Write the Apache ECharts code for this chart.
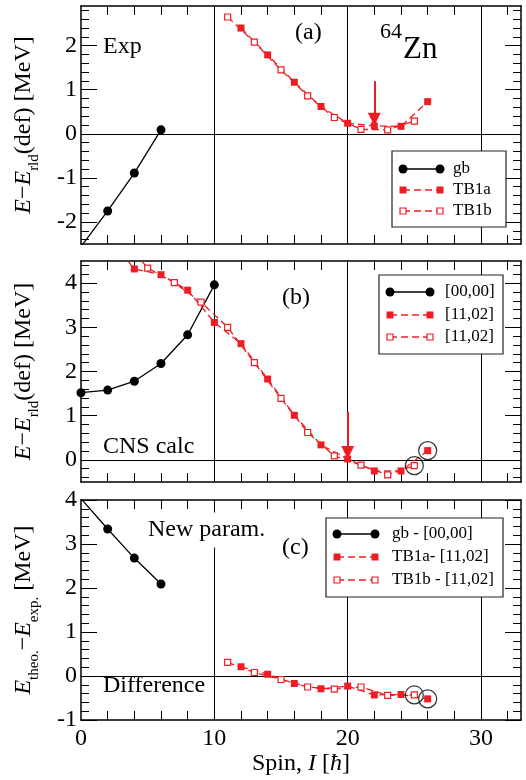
<!DOCTYPE html>
<html>
<head>
<meta charset="utf-8">
<script src="https://cdn.jsdelivr.net/npm/echarts@6/dist/echarts.min.js"></script>
<style>
html, body { margin: 0; padding: 0; background: #fff; }
#chart { width: 526px; height: 780px; }
</style>
</head>
<body>
<div id="chart"></div>
<script>
// 64Zn bands: spin I (hbar) vs. energy relative to rigid-rotor reference (MeV)

// (a) experiment
const spinGbA = [0, 2, 4, 6];
const gbA = [-2.56, -1.75, -0.89, 0.09];
const spinTB1aA = [12, 14, 16, 18, 20, 22, 24, 26];
const tb1aA = [2.40, 1.79, 1.17, 0.62, 0.24, 0.18, 0.17, 0.73];
const spinTB1bA = [11, 13, 15, 17, 19, 21, 23, 25];
const tb1bA = [2.65, 2.08, 1.45, 0.86, 0.37, 0.10, 0.09, 0.29];

// (b) CNS calculation
const spinGbB = [0, 2, 4, 6, 8, 10];
const gbB = [1.52, 1.58, 1.78, 2.18, 2.83, 3.96];
const spinTB1aB = [2, 4, 6, 8, 10, 12, 14, 16, 18, 20, 22, 24, 26];
const tb1aB = [5.05, 4.32, 4.19, 3.84, 3.11, 2.63, 1.83, 1.01, 0.34, 0.02, -0.25, -0.25, 0.21];
const spinTB1bB = [3, 5, 7, 9, 11, 13, 15, 17, 19, 21, 23, 25];
const tb1bB = [5.05, 4.34, 4.01, 3.57, 3.00, 2.20, 1.39, 0.62, 0.09, -0.12, -0.34, -0.13];

// (c) theory minus experiment
const spinGbC = [0, 2, 4, 6];
const gbC = [4.03, 3.34, 2.68, 2.09];
const spinTB1aC = [12, 14, 16, 18, 20, 22, 24, 26];
const tb1aC = [0.21, 0.04, -0.17, -0.29, -0.23, -0.43, -0.42, -0.52];
const spinTB1bC = [11, 13, 15, 17, 19, 21, 23, 25];
const tb1bC = [0.31, 0.08, -0.08, -0.25, -0.30, -0.25, -0.44, -0.43];

// arrows: [spin, tail energy, tip energy]
const arrowA = [22, 1.19, 0.33];
const arrowB = [20, 1.09, 0.17];

// circled terminating states (spins) of TB1b and TB1a
const circledTB1b = 25;
const circledTB1a = 26;

// axes
const spinRange = [0, 33];
const spinTicks = [0, 10, 20, 30];
const spinMinorTicks = [2, 4, 6, 8, 10, 12, 14, 16, 18, 20, 22, 24, 26, 28, 30, 32];
const refLinesX = [10, 20, 30];
const refLineY = 0;
const yRangeA = [-2.5, 2.9];
const yTicksA = [-2, -1, 0, 1, 2];
const yRangeB = [-0.5, 4.5];
const yTicksB = [0, 1, 2, 3, 4];
const yRangeC = [-1, 4];
const yTicksC = [-1, 0, 1, 2, 3, 4];

const SERIF = 'Liberation Serif, Times New Roman, Times, serif';
const RED = '#ee1d23';
const BLACK = '#000';

function minorValues(range, step) {
  const out = [];
  const k0 = Math.ceil(range[0] / step - 1e-9);
  const k1 = Math.floor(range[1] / step + 1e-9);
  for (let k = k0; k <= k1; k++) {
    const v = Math.round(k * step * 1000) / 1000;
    if (Math.abs(v - Math.round(v)) > 1e-6) out.push(v);
  }
  return out;
}

function pts(xs, ys) { return xs.map((x, i) => [x, ys[i]]); }
function valueAt(xs, ys, x) { return ys[xs.indexOf(x)]; }

const grids = [
  { left: 81, top: 6, width: 440, height: 238 },
  { left: 81, top: 261, width: 440, height: 221 },
  { left: 81, top: 500, width: 440, height: 220 }
];

const richName = {
  t: { fontFamily: SERIF, fontSize: 24, color: BLACK, lineHeight: 30, verticalAlign: 'top' },
  i: { fontFamily: SERIF, fontSize: 24, color: BLACK, lineHeight: 30, verticalAlign: 'top', fontStyle: 'italic' },
  s: { fontFamily: SERIF, fontSize: 15, color: BLACK, lineHeight: 15, verticalAlign: 'bottom' }
};

const axisLineStyle = { color: BLACK, width: 1.5 };
const tickLineStyle = { color: BLACK, width: 1 };

function xAxes(p, withLabels) {
  const common = {
    type: 'value', gridIndex: p, min: spinRange[0], max: spinRange[1],
    axisLine: { show: true, onZero: false, lineStyle: axisLineStyle },
    axisTick: { show: true, inside: true, length: 9, customValues: spinMinorTicks, lineStyle: tickLineStyle },
    minorTick: { show: false },
    splitLine: { show: false }
  };
  const bottom = Object.assign({}, common, {
    position: 'bottom',
    axisLabel: withLabels
      ? { show: true, customValues: spinTicks, margin: 7, color: BLACK, fontFamily: SERIF, fontSize: 24 }
      : { show: false }
  });
  if (withLabels) {
    Object.assign(bottom, {
      name: '{t|Spin, }{i|I}{t| [}{i|ħ}{t|]}',
      nameLocation: 'middle', nameGap: 27,
      nameTextStyle: { rich: richName }
    });
  }
  const top = Object.assign({}, common, { position: 'top', axisLabel: { show: false } });
  return [bottom, top];
}

function yAxes(p, range, ticks, name) {
  const minor = minorValues(range, 0.2);
  const common = { type: 'value', gridIndex: p, min: range[0], max: range[1], splitLine: { show: false }, minorTick: { show: false } };
  return [
    Object.assign({}, common, {
      position: 'left',
      axisLine: { show: true, onZero: false, lineStyle: axisLineStyle },
      axisTick: { show: true, inside: true, length: 16, customValues: ticks, lineStyle: tickLineStyle },
      axisLabel: { show: true, customValues: ticks, margin: 4, color: BLACK, fontFamily: SERIF, fontSize: 24 },
      name: name, nameLocation: 'middle', nameRotate: 90, nameGap: 39,
      nameTextStyle: { rich: richName }
    }),
    Object.assign({}, common, {
      position: 'right',
      axisLine: { show: true, onZero: false, lineStyle: axisLineStyle },
      axisTick: { show: true, inside: true, length: 16, customValues: ticks, lineStyle: tickLineStyle },
      axisLabel: { show: false }
    }),
    Object.assign({}, common, {
      position: 'left',
      axisLine: { show: false, onZero: false },
      axisTick: { show: true, inside: true, length: 8, customValues: minor, lineStyle: tickLineStyle },
      axisLabel: { show: false }
    }),
    Object.assign({}, common, {
      position: 'right',
      axisLine: { show: false, onZero: false },
      axisTick: { show: true, inside: true, length: 8, customValues: minor, lineStyle: tickLineStyle },
      axisLabel: { show: false }
    })
  ];
}

const nameDiff = '{i|E}{t|−}{i|E}{s|rld}{t|(def) [MeV]}';
const nameTheo = '{i|E}{s|theo.}{t|−}{i|E}{s|exp.}{t| [MeV]}';

function refLines(p) {
  return {
    type: 'line', xAxisIndex: 2 * p, yAxisIndex: 4 * p, data: [], silent: true, z: 1,
    markLine: {
      silent: true, z: 1, symbol: ['none', 'none'], animation: false,
      label: { show: false },
      lineStyle: { color: BLACK, width: 1, type: 'solid' },
      emphasis: { disabled: true },
      data: refLinesX.map(v => ({ xAxis: v })).concat([{ yAxis: refLineY }])
    }
  };
}

function gbSeries(p, xs, ys) {
  return {
    type: 'line', xAxisIndex: 2 * p, yAxisIndex: 4 * p, data: pts(xs, ys), clip: true, z: 3,
    symbol: 'circle', symbolSize: 9, showAllSymbol: true,
    itemStyle: { color: BLACK },
    lineStyle: { color: BLACK, width: 1.3 }
  };
}

function tbSeries(p, xs, ys, filled, arrow) {
  const s = {
    type: 'line', xAxisIndex: 2 * p, yAxisIndex: 4 * p, data: pts(xs, ys), clip: true, z: 3,
    symbol: 'rect', symbolSize: filled ? 7 : 6, showAllSymbol: true,
    itemStyle: filled ? { color: RED } : { color: '#fff', borderColor: RED, borderWidth: 1.2 },
    lineStyle: { color: RED, width: 1.3, type: [7, 4] }
  };
  if (arrow) {
    s.markLine = {
      silent: true, z: 5, animation: false,
      symbol: ['none', 'triangle'], symbolSize: 13,
      label: { show: false },
      lineStyle: { color: RED, width: 2, type: 'solid' },
      itemStyle: { color: RED },
      data: [[{ coord: [arrow[0], arrow[1]] }, { coord: [arrow[0], arrow[2]] }]]
    };
  }
  return s;
}

function circleSeries(p, points) {
  return {
    type: 'scatter', xAxisIndex: 2 * p, yAxisIndex: 4 * p, data: points, z: 4, silent: true,
    symbol: 'circle', symbolSize: 18,
    itemStyle: { color: 'rgba(0,0,0,0)', borderColor: BLACK, borderWidth: 1.2 }
  };
}

// legend drawing helpers
function txt(text, x, y, size, extra) {
  return {
    type: 'text', z: 100,
    style: Object.assign({
      text: text, x: x, y: y, font: size + 'px ' + SERIF, fill: BLACK,
      verticalAlign: 'middle', textVerticalAlign: 'middle', align: 'left', textAlign: 'left'
    }, extra || {})
  };
}

function legendSymbol(kind, cx, cy) {
  if (kind === 'gb') {
    return { type: 'circle', z: 102, shape: { cx: cx, cy: cy, r: 4.5 }, style: { fill: BLACK } };
  }
  if (kind === 'a') {
    return { type: 'rect', z: 102, shape: { x: cx - 3.5, y: cy - 3.5, width: 7, height: 7 }, style: { fill: RED } };
  }
  return { type: 'rect', z: 102, shape: { x: cx - 3, y: cy - 3, width: 6, height: 6 }, style: { fill: '#fff', stroke: RED, lineWidth: 1.2 } };
}

function legendBox(box, x1, x2, tx, rows) {
  const els = [{
    type: 'rect', z: 100,
    shape: { x: box[0], y: box[1], width: box[2] - box[0], height: box[3] - box[1] },
    style: { fill: '#fff', stroke: '#222', lineWidth: 1.2 }
  }];
  rows.forEach(r => {
    els.push({
      type: 'line', z: 101,
      shape: { x1: x1, y1: r.y, x2: x2, y2: r.y },
      style: { stroke: r.kind === 'gb' ? BLACK : RED, lineWidth: 1.3, lineDash: r.kind === 'gb' ? null : [7, 4] }
    });
    els.push(legendSymbol(r.kind, x1, r.y));
    els.push(legendSymbol(r.kind, x2, r.y));
    els.push(txt(r.text, tx, r.y, 17));
  });
  return els;
}

const graphics = [].concat(
  legendBox([392, 151, 506, 227], 403, 440, 453, [
    { y: 169, kind: 'gb', text: 'gb' },
    { y: 190, kind: 'a', text: 'TB1a' },
    { y: 211, kind: 'b', text: 'TB1b' }
  ]),
  legendBox([379, 275, 503, 354], 390, 430, 445, [
    { y: 292, kind: 'gb', text: '[00,00]' },
    { y: 315, kind: 'a', text: '[11,02]' },
    { y: 337, kind: 'b', text: '[11,02]' }
  ]),
  legendBox([326, 518, 503, 597], 337, 375, 392, [
    { y: 534, kind: 'gb', text: 'gb - [00,00]' },
    { y: 557, kind: 'a', text: 'TB1a- [11,02]' },
    { y: 580, kind: 'b', text: 'TB1b - [11,02]' }
  ]),
  [
    txt('Exp', 103, 47, 24),
    txt('(a)', 295, 33, 24),
    txt('64', 380, 32, 22),
    txt('Zn', 403, 50, 31),
    txt('(b)', 282, 298, 24),
    txt('CNS calc', 103, 447, 24),
    txt('(c)', 282, 548, 24),
    txt('New param.', 146, 530, 24, { backgroundColor: '#fff', padding: [0, 2, 11, 2] }),
    txt('Difference', 103, 686, 24)
  ]
);

const option = {
  animation: false,
  backgroundColor: '#fff',
  textStyle: { fontFamily: SERIF },
  grid: grids,
  xAxis: [].concat(xAxes(0, false), xAxes(1, false), xAxes(2, true)),
  yAxis: [].concat(
    yAxes(0, yRangeA, yTicksA, nameDiff),
    yAxes(1, yRangeB, yTicksB, nameDiff),
    yAxes(2, yRangeC, yTicksC, nameTheo)
  ),
  series: [
    refLines(0), refLines(1), refLines(2),
    gbSeries(0, spinGbA, gbA),
    tbSeries(0, spinTB1aA, tb1aA, true, arrowA),
    tbSeries(0, spinTB1bA, tb1bA, false),
    gbSeries(1, spinGbB, gbB),
    tbSeries(1, spinTB1aB, tb1aB, true, arrowB),
    tbSeries(1, spinTB1bB, tb1bB, false),
    circleSeries(1, [
      [circledTB1b, valueAt(spinTB1bB, tb1bB, circledTB1b)],
      [circledTB1a, valueAt(spinTB1aB, tb1aB, circledTB1a)]
    ]),
    gbSeries(2, spinGbC, gbC),
    tbSeries(2, spinTB1aC, tb1aC, true),
    tbSeries(2, spinTB1bC, tb1bC, false),
    circleSeries(2, [
      [circledTB1b, valueAt(spinTB1bC, tb1bC, circledTB1b)],
      [circledTB1a, valueAt(spinTB1aC, tb1aC, circledTB1a)]
    ])
  ],
  graphic: { elements: graphics }
};

const chart = echarts.init(document.getElementById('chart'), null, { renderer: 'canvas' });
chart.setOption(option);
</script>
</body>
</html>
